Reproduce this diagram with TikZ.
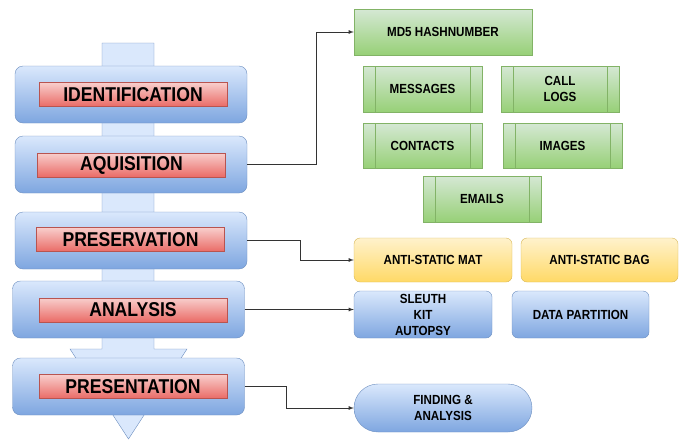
\documentclass[tikz,border=0pt]{standalone}
\usepackage{fontspec}
\setmainfont{Liberation Sans}[FakeStretch=0.88]
\usetikzlibrary{positioning}
\definecolor{bluetop}{HTML}{DAE8FC}
\definecolor{bluebot}{HTML}{7EA6E0}
\definecolor{blueline}{HTML}{6C8EBF}
\definecolor{redtop}{HTML}{F8CECC}
\definecolor{redbot}{HTML}{EA6B66}
\definecolor{redline}{HTML}{B85450}
\definecolor{greentop}{HTML}{D5E8D4}
\definecolor{greenbot}{HTML}{97D077}
\definecolor{greenline}{HTML}{82B366}
\definecolor{yellowtop}{HTML}{FFF2CC}
\definecolor{yellowbot}{HTML}{FFD966}
\definecolor{yellowline}{HTML}{D6B656}

\begin{document}
\begin{tikzpicture}[x=1pt,y=-1pt,inner sep=0pt]
\tikzstyle{stage}=[rectangle, rounded corners=8pt, draw=blueline, top color=bluetop, bottom color=bluebot, minimum width=232pt, minimum height=57pt]
\tikzstyle{title}=[rectangle, draw=redline, top color=redtop, bottom color=redbot, minimum width=188pt, minimum height=24pt, font=\bfseries\fontsize{20}{21}\selectfont]
\tikzstyle{item}=[rectangle, draw=greenline, top color=greentop, bottom color=greenbot, minimum width=119pt, minimum height=46pt, align=center, font=\bfseries\fontsize{13.2}{16}\selectfont]
\tikzstyle{process}=[item, path picture={\draw[greenline] ([xshift=12pt]path picture bounding box.north west) -- ([xshift=12pt]path picture bounding box.south west) ([xshift=-12pt]path picture bounding box.north east) -- ([xshift=-12pt]path picture bounding box.south east);}]
\tikzstyle{tool}=[item, rounded corners=6pt, draw=blueline, top color=bluetop, bottom color=bluebot]
\tikzstyle{gear}=[item, rounded corners=6pt, draw=yellowline, top color=yellowtop, bottom color=yellowbot, minimum width=157pt, minimum height=44pt]
\tikzstyle{connect}=[->, >=latex, line width=0.8pt, draw=black!80]
\useasboundingbox (0,0) rectangle (687,440);
\draw[blueline, fill=bluetop] (102,43) -- (154,43) -- (154,349) -- (187,349) -- (128.5,439) -- (70,349) -- (102,349) -- cycle;
\node[stage] (ident) at (131,94.5) {};
\node[stage] (aqu) at (131,164.5) {};
\node[stage] (pres) at (131,240.5) {};
\node[stage] (ana) at (128.5,309.5) {};
\node[stage] (prs) at (128.5,386.5) {};
\node[title] (identt) at (133,94.5) {IDENTIFICATION};
\node[title] (aqut) at (131.5,165) {AQUISITION};
\node[title] (prest) at (130.5,239.5) {PRESERVATION};
\node[title] (anat) at (133,310) {ANALYSIS};
\node[title] (prst) at (133,386.5) {PRESENTATION};
\node[item, minimum width=178pt] (md5) at (443,32) {MD5 HASHNUMBER};
\node[process] (msg) at (422.5,89) {MESSAGES};
\node[process, minimum width=118pt] (calls) at (560,89) {CALL\\LOGS};
\node[process, minimum height=45pt] (cont) at (422.5,145.5) {CONTACTS};
\node[process, minimum height=45pt] (img) at (562.5,145.5) {IMAGES};
\node[process, minimum width=118pt] (mail) at (482,199) {EMAILS};
\node[gear, minimum width=158pt] (mat) at (433,260) {ANTI-STATIC MAT};
\node[gear] (bag) at (599.5,260) {ANTI-STATIC BAG};
\node[tool, minimum width=138pt, minimum height=47pt] (sleuth) at (423,314.5) {SLEUTH\\KIT\\AUTOPSY};
\node[tool, minimum width=137pt, minimum height=47pt] (part) at (580.5,314.5) {DATA PARTITION};
\node[tool, minimum width=178pt, minimum height=48pt, rounded corners=24pt] (find) at (443,408) {FINDING \&\\ANALYSIS};
\draw[connect] (aqu.east) -- ++(69,0) |- (md5.west);
\draw[connect] (pres.east) -- ++(53,0) |- (mat.west);
\draw[connect] (ana.east) -- (ana.east -| sleuth.west);
\draw[connect] (prs.east) -- ++(42,0) |- (find.west);
\end{tikzpicture}
\end{document}
